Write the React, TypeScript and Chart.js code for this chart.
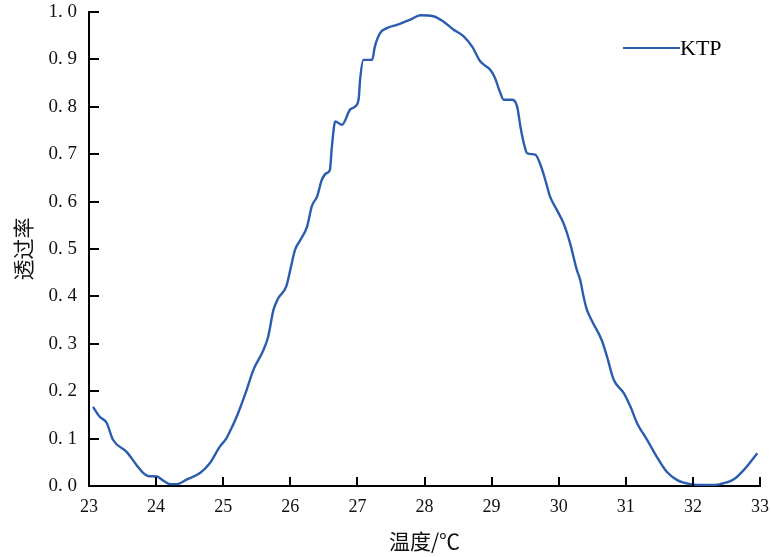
import React, { useEffect, useRef } from "react";
import { Chart, registerables } from "chart.js";

Chart.register(...registerables);

const temperatures = [
  23.06, 23.16, 23.26, 23.36, 23.56, 23.71, 23.81, 23.88, 24.01, 24.11,
  24.21, 24.31, 24.46, 24.66, 24.8, 24.95, 25.05, 25.1, 25.2, 25.35,
  25.45, 25.6, 25.67, 25.75, 25.82, 25.94, 26.0, 26.07, 26.15, 26.25,
  26.32, 26.4, 26.47, 26.54, 26.59, 26.62, 26.67, 26.77, 26.89, 26.97,
  27.02, 27.04, 27.09, 27.22, 27.26, 27.34, 27.44, 27.59, 27.79, 27.94,
  28.13, 28.28, 28.43, 28.58, 28.71, 28.83, 28.98, 29.05, 29.13, 29.18,
  29.3, 29.38, 29.43, 29.48, 29.53, 29.65, 29.72, 29.8, 29.87, 29.97,
  30.07, 30.17, 30.27, 30.32, 30.37, 30.42, 30.5, 30.64, 30.72, 30.82,
  30.97, 31.07, 31.17, 31.32, 31.46, 31.61, 31.76, 31.96, 32.21, 32.41,
  32.61, 32.76, 32.96,
];

const transmittance = [
  0.167, 0.146, 0.134, 0.097, 0.072, 0.044, 0.027, 0.021, 0.02, 0.011,
  0.004, 0.004, 0.014, 0.028, 0.048, 0.083, 0.101, 0.115, 0.146, 0.203,
  0.245, 0.287, 0.315, 0.372, 0.396, 0.421, 0.456, 0.498, 0.519, 0.547,
  0.59, 0.611, 0.646, 0.66, 0.667, 0.716, 0.769, 0.762, 0.794, 0.801,
  0.818, 0.857, 0.899, 0.899, 0.927, 0.956, 0.966, 0.973, 0.984, 0.993,
  0.991, 0.98, 0.963, 0.949, 0.927, 0.896, 0.878, 0.861, 0.829, 0.815,
  0.815, 0.801, 0.758, 0.723, 0.702, 0.699, 0.681, 0.646, 0.611, 0.583,
  0.555, 0.512, 0.456, 0.435, 0.4, 0.372, 0.347, 0.308, 0.273, 0.224,
  0.196, 0.167, 0.132, 0.097, 0.062, 0.03, 0.013, 0.004, 0.002, 0.004,
  0.014, 0.034, 0.069,
];

const seriesName = "KTP";
const xTitle = "温度/℃";
const yTitle = "透过率";
const xMin = 23;
const xMax = 33;
const yMin = 0;
const yMax = 1;

const LINE_COLOR = "#2B5DAF";
const SERIF = "'Liberation Serif', 'DejaVu Serif', serif";
const CJK = "'Noto Sans CJK SC', sans-serif";

const inwardTicks = {
  id: "inwardTicks",
  afterDraw(chart: any) {
    const ctx = chart.ctx;
    const xs = chart.scales.x;
    const ys = chart.scales.y;
    const area = chart.chartArea;
    ctx.save();
    ctx.strokeStyle = "#000";
    ctx.lineWidth = 2;
    ctx.beginPath();
    xs.ticks.forEach((t: any) => {
      const px = Math.round(xs.getPixelForValue(t.value));
      ctx.moveTo(px, area.bottom);
      ctx.lineTo(px, area.bottom - 9);
    });
    ys.ticks.forEach((t: any) => {
      const py = Math.round(ys.getPixelForValue(t.value));
      ctx.moveTo(area.left, py);
      ctx.lineTo(area.left + 10, py);
    });
    ctx.stroke();
    ctx.restore();
  },
};

const lineLegend = {
  id: "lineLegend",
  afterDraw(chart: any) {
    const ctx = chart.ctx;
    const area = chart.chartArea;
    const ds = chart.data.datasets[0];
    const x0 = area.right - 137;
    const y0 = area.top + 36;
    ctx.save();
    ctx.strokeStyle = ds.borderColor;
    ctx.lineWidth = 2;
    ctx.beginPath();
    ctx.moveTo(x0, y0);
    ctx.lineTo(x0 + 57, y0);
    ctx.stroke();
    ctx.fillStyle = "#000";
    ctx.font = `22px ${SERIF}`;
    ctx.textBaseline = "middle";
    ctx.textAlign = "left";
    ctx.fillText(ds.label, x0 + 57, y0 + 1);
    ctx.restore();
  },
};

export default function App() {
  const canvasRef = useRef<HTMLCanvasElement | null>(null);

  useEffect(() => {
    if (!canvasRef.current) return;
    const points = temperatures.map((t, i) => ({ x: t, y: transmittance[i] }));
    const chart = new Chart(canvasRef.current, {
      type: "line",
      data: {
        datasets: [
          {
            label: seriesName,
            data: points,
            borderColor: LINE_COLOR,
            borderWidth: 2.4,
            pointRadius: 0,
            fill: false,
            cubicInterpolationMode: "monotone",
          },
        ],
      },
      options: {
        animation: false,
        responsive: false,
        maintainAspectRatio: false,
        layout: { padding: { top: 12, right: 11, left: 0, bottom: 0 } },
        plugins: {
          legend: { display: false },
          tooltip: { enabled: false },
        },
        scales: {
          x: {
            type: "linear",
            min: xMin,
            max: xMax,
            afterFit: (s: any) => {
              s.height = 71;
              s.paddingLeft = 0;
              s.paddingRight = 0;
            },
            grid: { display: false, drawTicks: false },
            border: { display: true, color: "#000", width: 2 },
            ticks: {
              stepSize: 1,
              padding: 10,
              color: "#111",
              font: { family: SERIF, size: 18 },
              maxRotation: 0,
            },
            title: {
              display: true,
              text: xTitle,
              color: "#111",
              font: { family: CJK, size: 21 },
              padding: { top: 0, bottom: 3 },
            },
          },
          y: {
            type: "linear",
            min: yMin,
            max: yMax,
            afterFit: (s: any) => {
              s.width = 89;
              s.paddingTop = 0;
              s.paddingBottom = 0;
            },
            grid: { display: false, drawTicks: false },
            border: { display: true, color: "#000", width: 2 },
            ticks: {
              stepSize: 0.1,
              padding: 12,
              color: "#111",
              font: { family: SERIF, size: 19 },
              callback: (v: any) => Number(v).toFixed(1).replace(".", ". "),
            },
            title: {
              display: true,
              text: yTitle,
              color: "#111",
              font: { family: CJK, size: 21 },
              padding: { top: 10, bottom: 0 },
            },
          },
        },
      },
      plugins: [inwardTicks, lineLegend],
    });
    return () => chart.destroy();
  }, []);

  return (
    <div style={{ position: "fixed", left: 0, top: 0, width: 771, height: 557, background: "#fff" }}>
      <canvas ref={canvasRef} width={771} height={557} style={{ width: 771, height: 557 }} />
    </div>
  );
}
